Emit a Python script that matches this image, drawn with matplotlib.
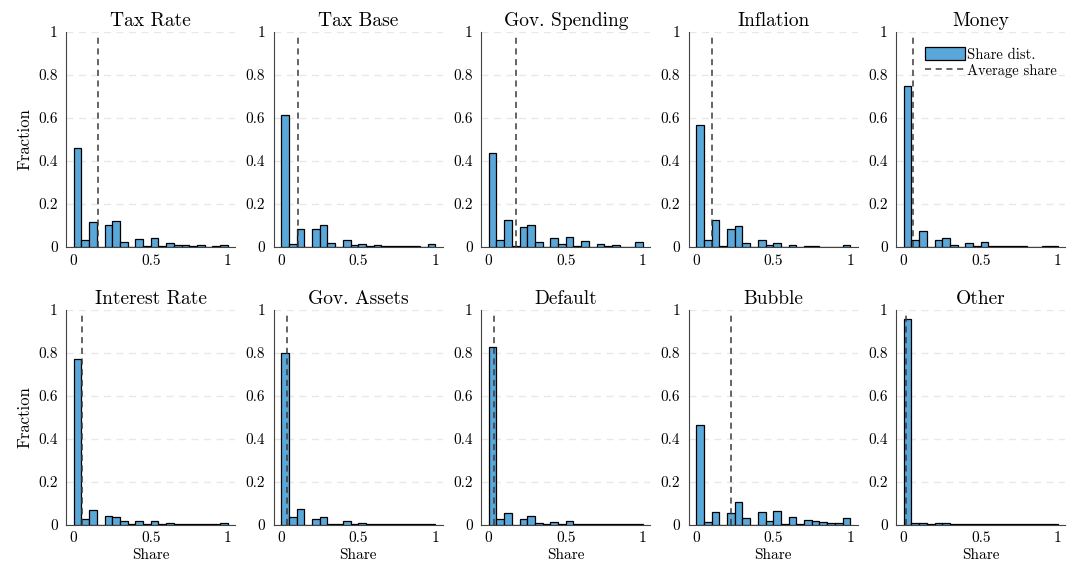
import matplotlib
matplotlib.use("Agg")
import matplotlib.pyplot as plt
import numpy as np

plt.rcParams['font.family'] = 'serif'
plt.rcParams['font.serif'] = ['cmr10', 'DejaVu Serif']
plt.rcParams['mathtext.fontset'] = 'cm'
plt.rcParams['axes.formatter.use_mathtext'] = True

# 20 bins of width 0.05 on [0, 1]
bin_edges = np.linspace(0, 1, 21)

titles = ["Tax Rate", "Tax Base", "Gov. Spending", "Inflation", "Money",
          "Interest Rate", "Gov. Assets", "Default", "Bubble", "Other"]

tax_rate = [0.461, 0.034, 0.116, 0.0, 0.104, 0.119, 0.023, 0.0, 0.036, 0.006,
            0.042, 0.005, 0.017, 0.009, 0.009, 0.006, 0.011, 0.002, 0.005, 0.012]
tax_base = [0.615, 0.014, 0.084, 0.0, 0.084, 0.104, 0.020, 0.0, 0.031, 0.008,
            0.015, 0.006, 0.011, 0.003, 0.005, 0.003, 0.005, 0.003, 0.002, 0.015]
gov_spending = [0.438, 0.031, 0.128, 0.005, 0.093, 0.102, 0.023, 0.0, 0.042, 0.014,
                0.048, 0.005, 0.028, 0.002, 0.015, 0.006, 0.011, 0.0, 0.002, 0.025]
inflation = [0.568, 0.034, 0.125, 0.005, 0.084, 0.098, 0.020, 0.0, 0.031, 0.008,
             0.020, 0.002, 0.008, 0.002, 0.005, 0.005, 0.002, 0.002, 0.002, 0.011]
money = [0.751, 0.034, 0.074, 0.0, 0.033, 0.040, 0.012, 0.002, 0.017, 0.003,
         0.023, 0.003, 0.006, 0.005, 0.005, 0.005, 0.002, 0.002, 0.005, 0.005]
interest_rate = [0.769, 0.025, 0.068, 0.0, 0.042, 0.034, 0.015, 0.002, 0.015, 0.003,
                 0.017, 0.003, 0.006, 0.002, 0.002, 0.002, 0.002, 0.002, 0.002, 0.008]
gov_assets = [0.800, 0.034, 0.073, 0.0, 0.028, 0.037, 0.005, 0.002, 0.015, 0.002,
              0.008, 0.002, 0.003, 0.002, 0.002, 0.002, 0.002, 0.002, 0.002, 0.002]
default = [0.825, 0.025, 0.053, 0.0, 0.026, 0.040, 0.008, 0.002, 0.012, 0.002,
           0.015, 0.002, 0.002, 0.002, 0.002, 0.002, 0.002, 0.002, 0.002, 0.002]
bubble = [0.464, 0.014, 0.057, 0.0, 0.054, 0.105, 0.029, 0.0, 0.060, 0.015,
          0.063, 0.005, 0.036, 0.002, 0.023, 0.015, 0.014, 0.008, 0.008, 0.031]
other = [0.955, 0.006, 0.006, 0.002, 0.008, 0.008, 0.005, 0.002, 0.002, 0.002,
         0.002, 0.002, 0.002, 0.002, 0.002, 0.002, 0.002, 0.002, 0.002, 0.005]

# mean share of each category (dashed line)
avg_share = [0.16, 0.11, 0.177, 0.10, 0.06, 0.054, 0.04, 0.037, 0.227, 0.015]

yticks = [0, 0.2, 0.4, 0.6, 0.8, 1]
ytick_labels = ["0", "0.2", "0.4", "0.6", "0.8", "1"]
xticks = [0, 0.5, 1]
xtick_labels = ["0", "0.5", "1"]

series = [tax_rate, tax_base, gov_spending, inflation, money,
          interest_rate, gov_assets, default, bubble, other]

bar_color = "#5aa7d9"
line_color = "#3a3a3a"

fig, axes = plt.subplots(2, 5, figsize=(10.67, 5.70), dpi=100)
plt.subplots_adjust(left=0.0619, right=0.9985, top=0.944, bottom=0.0795,
                    wspace=0.225, hspace=0.29)

for i, ax in enumerate(axes.flat):
    bars = ax.bar(bin_edges[:-1], series[i], width=0.05, align="edge",
                  color=bar_color, edgecolor="black", linewidth=0.9,
                  label="Share dist.", zorder=3)
    avg = ax.axvline(avg_share[i], ymin=0, ymax=0.985, color=line_color,
                     linestyle=(0, (4, 3)), linewidth=1.1, label="Average share", zorder=4)
    ax.set_xlim(-0.05, 1.05)
    ax.set_ylim(0, 1)
    ax.set_yticks(yticks, ytick_labels)
    ax.set_xticks(xticks, xtick_labels)
    ax.tick_params(axis="y", length=0, labelsize=11, pad=6)
    ax.tick_params(axis="x", length=0, labelsize=11, pad=5)
    ax.yaxis.grid(True, color="#e8e8e8", linestyle=(0, (5, 4)), linewidth=1, zorder=0)
    ax.spines["top"].set_visible(False)
    ax.spines["right"].set_visible(False)
    ax.spines["left"].set_color("#444444")
    ax.spines["bottom"].set_color("#444444")
    ax.set_title(titles[i], fontsize=14, pad=4)
    if i % 5 == 0:
        ax.set_ylabel("Fraction", fontsize=12)
    if i >= 5:
        ax.set_xlabel("Share", fontsize=11, labelpad=2)
    if i == 4:
        ax.legend([bars, avg], ["Share dist.", "Average share"],
                  loc="upper right", frameon=False, fontsize=10.5,
                  handlelength=2.8, handleheight=1.0, handletextpad=0.1,
                  labelspacing=0.1, borderaxespad=0.2,
                  bbox_to_anchor=(1.0, 0.97))

plt.savefig("out.png")
